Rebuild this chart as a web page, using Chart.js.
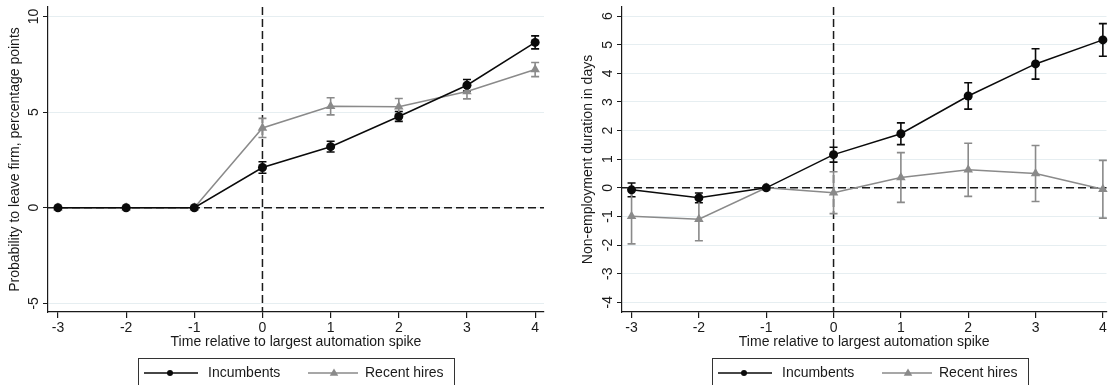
<!DOCTYPE html>
<html>
<head>
<meta charset="utf-8">
<script src="https://cdn.jsdelivr.net/npm/chart.js@4"></script>
<style>
html, body { margin: 0; padding: 0; background: #fff; overflow: hidden; }
#wrap { position: relative; width: 1112px; height: 385px; }
.panel { position: absolute; top: 0; width: 556px; height: 385px; }
</style>
</head>
<body>
<div id="wrap">
    <div class="panel" style="left:0"><canvas id="leaveChart"></canvas></div>
    <div class="panel" style="left:556px"><canvas id="daysChart"></canvas></div>
</div>
<script>
// Data
const periods = [-3, -2, -1, 0, 1, 2, 3, 4];
const xTicks = [-3, -2, -1, 0, 1, 2, 3, 4];
const seriesNames = ['Incumbents', 'Recent hires'];

// left panel: probability to leave firm, pp
const leaveIncumbents = [0, 0, 0, 2.1, 3.19, 4.77, 6.4, 8.64];
const leaveIncumbentsCI = [0, 0, 0, 0.3, 0.28, 0.26, 0.3, 0.34];
const leaveRecent = [0, 0, 0, 4.17, 5.3, 5.28, 6.07, 7.22];
const leaveRecentCI = [0, 0, 0, 0.5, 0.45, 0.43, 0.38, 0.37];
const leaveTicks = [-5, 0, 5, 10];

// right panel: non-employment duration in days
const daysIncumbents = [-0.07, -0.35, 0, 1.16, 1.89, 3.21, 4.33, 5.17];
const daysIncumbentsCI = [0.24, 0.17, 0, 0.26, 0.38, 0.46, 0.53, 0.57];
const daysRecent = [-0.99, -1.1, 0, -0.17, 0.36, 0.63, 0.5, -0.05];
const daysRecentCI = [0.97, 0.75, 0, 0.73, 0.87, 0.93, 0.98, 1.01];
const daysTicks = [-4, -3, -2, -1, 0, 1, 2, 3, 4, 5, 6];

const black = '#0a0a0a';
const grey = '#8a8a8a';
const axisColor = '#1a1a1a';
const font = 'Arial, "Liberation Sans", sans-serif';

function toPoints(values) {
    return periods.map((p, i) => ({ x: p, y: values[i] }));
}

function marker(ctx, style, x, y, r, color) {
    ctx.fillStyle = color;
    ctx.beginPath();
    if (style === 'circle') {
        ctx.arc(x, y, r, 0, Math.PI * 2);
    } else {
        ctx.moveTo(x, y - r);
        ctx.lineTo(x + r * 0.95, y + r * 0.6);
        ctx.lineTo(x - r * 0.95, y + r * 0.6);
        ctx.closePath();
    }
    ctx.fill();
}

function makeChart(id, opts) {
    const decor = {
        id: 'decor',
        beforeDatasetsDraw(chart) {
            const { ctx, chartArea, scales: { x, y } } = chart;
            ctx.save();
            // dashed reference lines at 0
            ctx.strokeStyle = axisColor;
            ctx.lineWidth = 1.5;
            ctx.setLineDash([8, 4]);
            const x0 = x.getPixelForValue(0);
            const y0 = y.getPixelForValue(0);
            ctx.beginPath();
            ctx.moveTo(x0, chartArea.top);
            ctx.lineTo(x0, chartArea.bottom);
            ctx.moveTo(chartArea.left, y0);
            ctx.lineTo(chartArea.right, y0);
            ctx.stroke();
            ctx.setLineDash([]);

            // confidence intervals
            chart.data.datasets.forEach(ds => {
                ctx.strokeStyle = ds.borderColor;
                ctx.lineWidth = 1.6;
                ds.data.forEach((p, i) => {
                    const e = ds.ci[i];
                    if (!e) return;
                    const px = x.getPixelForValue(p.x);
                    const top = y.getPixelForValue(p.y + e);
                    const bot = y.getPixelForValue(p.y - e);
                    ctx.beginPath();
                    ctx.moveTo(px, top); ctx.lineTo(px, bot);
                    ctx.moveTo(px - 4, top); ctx.lineTo(px + 4, top);
                    ctx.moveTo(px - 4, bot); ctx.lineTo(px + 4, bot);
                    ctx.stroke();
                });
            });
            ctx.restore();
        },
        afterDraw(chart) {
            const { ctx, chartArea, scales: { y } } = chart;
            ctx.save();
            ctx.fillStyle = axisColor;
            ctx.font = '14px ' + font;
            ctx.textAlign = 'center';
            ctx.textBaseline = 'middle';

            // rotated y tick labels
            opts.yTicks.forEach(v => {
                const py = y.getPixelForValue(v);
                ctx.save();
                ctx.translate(chartArea.left - 14, py);
                ctx.rotate(-Math.PI / 2);
                ctx.fillText(String(v), 0, 0);
                ctx.restore();
            });

            // y title
            ctx.save();
            ctx.translate(opts.yTitleX, (chartArea.top + chartArea.bottom) / 2);
            ctx.rotate(-Math.PI / 2);
            ctx.fillText(opts.yTitle, 0, 0);
            ctx.restore();

            // x title
            ctx.fillText('Time relative to largest automation spike', (chartArea.left + chartArea.right) / 2, 342);

            // legend
            const lx = opts.legendX;
            ctx.strokeStyle = '#333';
            ctx.lineWidth = 1;
            ctx.strokeRect(lx + 0.5, 358.5, 316, 40);
            const items = [
                { line: [6, 60], text: 70, color: black, style: 'circle', r: 3 },
                { line: [170, 224], text: 227, color: grey, style: 'triangle', r: 4.5 }
            ];
            ctx.textAlign = 'left';
            items.forEach((it, i) => {
                ctx.strokeStyle = it.color;
                ctx.lineWidth = 1.4;
                ctx.beginPath();
                ctx.moveTo(lx + it.line[0], 373);
                ctx.lineTo(lx + it.line[1] - (i ? 4 : 0), 373);
                ctx.stroke();
                marker(ctx, it.style, lx + (it.line[0] + it.line[1]) / 2 - 1, 373, it.r, it.color);
                ctx.fillStyle = axisColor;
                ctx.fillText(seriesNames[i], lx + it.text, 373);
            });
            ctx.restore();
        }
    };

    return new Chart(document.getElementById(id), {
        type: 'line',
        data: {
            datasets: [
                {
                    label: seriesNames[0],
                    data: toPoints(opts.incumbents),
                    ci: opts.incumbentsCI,
                    borderColor: black,
                    backgroundColor: black,
                    borderWidth: 1.5,
                    pointStyle: 'circle',
                    pointRadius: 4.5,
                    pointBorderWidth: 0,
                    tension: 0,
                    clip: false
                },
                {
                    label: seriesNames[1],
                    data: toPoints(opts.recent),
                    ci: opts.recentCI,
                    borderColor: grey,
                    backgroundColor: grey,
                    borderWidth: 1.5,
                    pointStyle: 'triangle',
                    pointRadius: 5.5,
                    pointBorderWidth: 0,
                    tension: 0,
                    clip: false
                }
            ]
        },
        options: {
            responsive: true,
            maintainAspectRatio: false,
            animation: false,
            layout: { padding: { top: 7, right: opts.padRight, left: 0, bottom: 0 } },
            plugins: { legend: { display: false }, tooltip: { enabled: false } },
            scales: {
                x: {
                    type: 'linear',
                    min: opts.xMin,
                    max: opts.xMax,
                    afterBuildTicks: s => { s.ticks = xTicks.map(v => ({ value: v })); },
                    afterFit: s => { s.height = 73; },
                    border: { display: true, color: axisColor, width: 1.2 },
                    grid: { drawOnChartArea: false, tickLength: 6, tickColor: axisColor, lineWidth: 1.2 },
                    ticks: { color: axisColor, font: { size: 14, family: font }, padding: 2, maxRotation: 0 }
                },
                y: {
                    type: 'linear',
                    min: opts.yMin,
                    max: opts.yMax,
                    afterBuildTicks: s => { s.ticks = opts.yTicks.map(v => ({ value: v })); },
                    afterFit: s => { s.width = opts.yWidth; },
                    border: { display: true, color: axisColor, width: 1.2 },
                    grid: { color: '#e6eef1', lineWidth: 1, tickLength: 5, tickColor: axisColor },
                    ticks: { display: false }
                }
            }
        },
        plugins: [decor]
    });
}

makeChart('leaveChart', {
    incumbents: leaveIncumbents, incumbentsCI: leaveIncumbentsCI,
    recent: leaveRecent, recentCI: leaveRecentCI,
    yTicks: leaveTicks, yMin: -5.45, yMax: 10.49,
    xMin: -3.146, xMax: 4.13,
    yWidth: 48, padRight: 12, yTitleX: 15,
    yTitle: 'Probability to leave firm, percentage points',
    legendX: 138
});

makeChart('daysChart', {
    incumbents: daysIncumbents, incumbentsCI: daysIncumbentsCI,
    recent: daysRecent, recentCI: daysRecentCI,
    yTicks: daysTicks, yMin: -4.34, yMax: 6.32,
    xMin: -3.142, xMax: 4.054,
    yWidth: 66, padRight: 0, yTitleX: 32,
    yTitle: 'Non-employment duration in days',
    legendX: 156
});
</script>
</body>
</html>
